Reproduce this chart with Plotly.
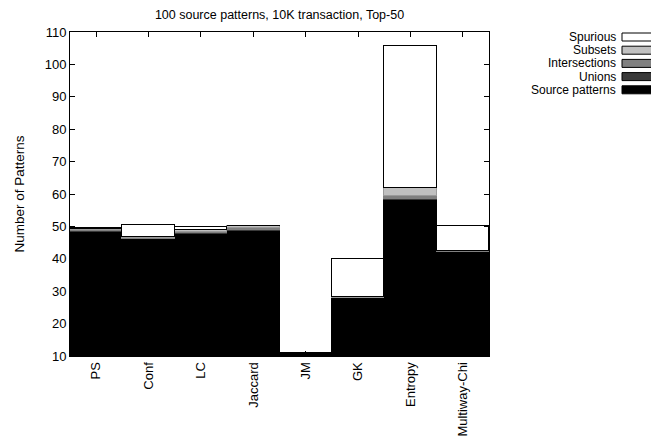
import plotly.graph_objects as go

categories = ["PS", "Conf", "LC", "Jaccard", "JM", "GK", "Entropy", "Multiway-Chi"]
source_patterns = [48.3, 46.0, 47.8, 48.5, 10.8, 28.0, 58.0, 42.0]
unions = [0.3, 0.0, 0.2, 0.4, 0.0, 0.0, 0.5, 0.0]
intersections = [0.4, 0.3, 0.4, 0.6, 0.1, 0.0, 1.0, 0.3]
subsets = [0.3, 0.3, 0.5, 0.5, 0.0, 0.1, 2.5, 0.2]
spurious = [0.2, 3.9, 0.9, 0.0, 0.1, 11.9, 43.7, 7.5]
y_ticks = [10, 20, 30, 40, 50, 60, 70, 80, 90, 100, 110]

series = [
    ("Source patterns", source_patterns, "#000000", "#000000"),
    ("Unions", unions, "#3a3a3a", "#3a3a3a"),
    ("Intersections", intersections, "#808080", "#808080"),
    ("Subsets", subsets, "#c0c0c0", "#9a9a9a"),
    ("Spurious", spurious, "#ffffff", "#000000"),
]

fig = go.Figure()
for name, vals, fill, line in series:
    fig.add_trace(go.Bar(
        x=categories, y=vals, name=name,
        marker=dict(color=fill, line=dict(color=line, width=1)),
        showlegend=False,
    ))

font = "Liberation Sans, Arial, sans-serif"
W, H = 651, 433
L, T, PW, PH = 62, 24, 419, 324
fig.update_layout(
    barmode="stack", bargap=0,
    width=W, height=H,
    margin=dict(l=L, r=W - L - PW, t=T, b=H - T - PH, autoexpand=False),
    paper_bgcolor="white", plot_bgcolor="white",
    font=dict(family=font, size=13, color="black"),
    title=dict(text="100 source patterns, 10K transaction, Top-50",
               x=(L + PW / 2) / W, xanchor="center", y=1 - 7 / H, yanchor="middle",
               font=dict(size=12.5)),
    xaxis=dict(tickangle=-90, showline=True, linecolor="black", linewidth=1, mirror="ticks",
               ticks="inside", ticklen=5, tickcolor="black", showgrid=False, automargin=False),
    yaxis=dict(range=[10, 110], tickvals=y_ticks, showline=True, linecolor="black", linewidth=1,
               mirror="ticks", ticks="inside", ticklen=5, tickcolor="black", showgrid=False,
               automargin=False,
               title=dict(text="Number of Patterns", font=dict(size=13.5), standoff=16)),
)

legend_items = [("Spurious", "#ffffff"), ("Subsets", "#c0c0c0"), ("Intersections", "#808080"),
                ("Unions", "#3a3a3a"), ("Source patterns", "#000000")]
for i, (name, col) in enumerate(legend_items):
    yc = 29 + i * 13.2
    ypap = (T + PH - yc) / PH
    fig.add_annotation(text=name, xref="paper", yref="paper", x=(609 - L) / PW, y=ypap,
                       xanchor="right", yanchor="middle", showarrow=False,
                       font=dict(size=12), borderpad=0)
    fig.add_shape(type="rect", xref="paper", yref="paper",
                  x0=(614 - L) / PW, x1=(647 - L) / PW,
                  y0=ypap - 4 / PH, y1=ypap + 4 / PH,
                  fillcolor=col, line=dict(color="black", width=1))

fig.write_html("out.html")
